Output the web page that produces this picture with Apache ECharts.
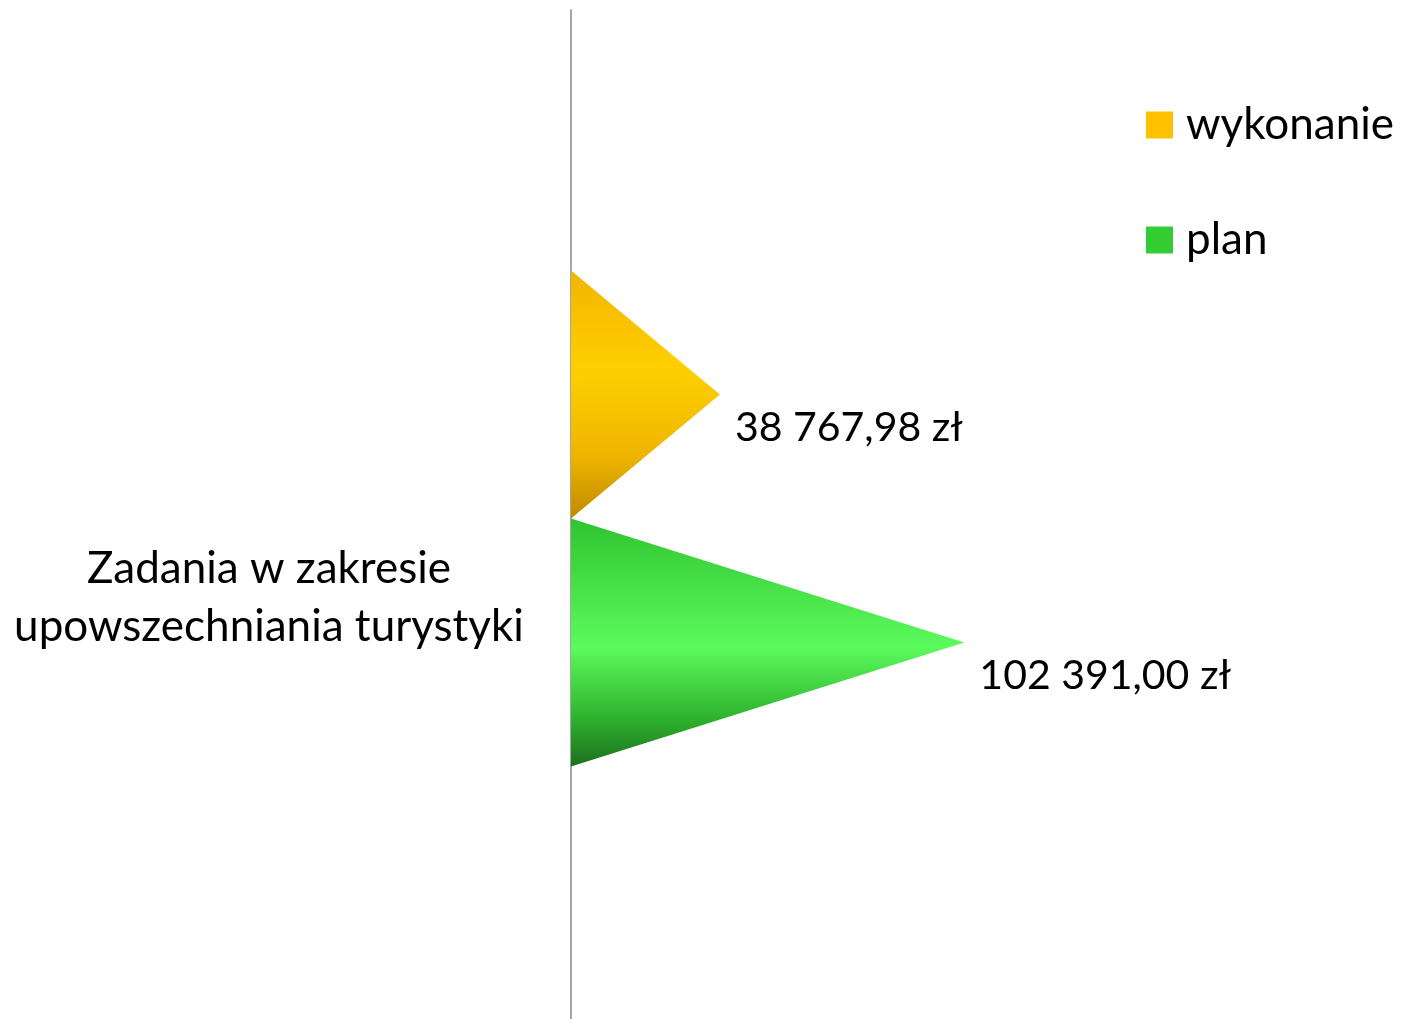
<!DOCTYPE html>
<html>
<head>
<meta charset="utf-8">
<script src="https://cdn.jsdelivr.net/npm/echarts@6/dist/echarts.min.js"></script>
<style>
  html, body { margin: 0; padding: 0; background: #fff; }
  #chart { width: 1402px; height: 1019px; }
</style>
</head>
<body>
<div id="chart"></div>
<script>
var categories = ['Zadania w zakresie\nupowszechniania turystyki'];
var seriesNames = ['wykonanie', 'plan'];
var wykonanie = [38767.98];
var plan = [102391.00];
var legendColors = ['#FFC000', '#33CC33'];

// 38767.98 -> "38 767,98 zł"
function formatZl(v) {
  var parts = v.toFixed(2).split('.');
  var intPart = parts[0].replace(/\B(?=(\d{3})+(?!\d))/g, ' ');
  return intPart + ',' + parts[1] + ' zł';
}

var chart = echarts.init(document.getElementById('chart'));

var coneYellow = new echarts.graphic.LinearGradient(0, 0, 0, 1, [
  { offset: 0, color: '#f2b400' },
  { offset: 0.4, color: '#ffd000' },
  { offset: 0.75, color: '#eeb400' },
  { offset: 1, color: '#c08a00' }
]);
var coneGreen = new echarts.graphic.LinearGradient(0, 0, 0, 1, [
  { offset: 0, color: '#30c430' },
  { offset: 0.52, color: '#5cfa5c' },
  { offset: 0.8, color: '#2fb42f' },
  { offset: 1, color: '#1d701d' }
]);

var labelStyle = {
  show: true,
  position: 'right',
  distance: 15,
  offset: [0, 37],
  fontFamily: 'Lato',
  fontSize: 41,
  color: '#000',
  formatter: function (p) { return formatZl(p.value); }
};

var option = {
  animation: false,
  backgroundColor: '#fff',
  grid: {
    left: 571,
    right: 370,
    top: 10,
    bottom: 0
  },
  legend: {
    orient: 'vertical',
    left: 1146,
    top: 103,
    padding: 0,
    itemWidth: 27,
    itemHeight: 27,
    itemGap: 71,
    icon: 'rect',
    data: [
      { name: seriesNames[0], itemStyle: { color: legendColors[0] } },
      { name: seriesNames[1], itemStyle: { color: legendColors[1] } }
    ],
    textStyle: {
      fontFamily: 'Lato',
      fontSize: 44,
      lineHeight: 44,
      color: '#000',
      padding: [0, 0, 0, 8]
    }
  },
  xAxis: {
    type: 'value',
    min: 0,
    max: 120000,
    show: false
  },
  yAxis: {
    type: 'category',
    data: categories,
    axisLine: { show: true, lineStyle: { color: '#a6a6a6', width: 2 } },
    axisTick: { show: false },
    axisLabel: {
      align: 'center',
      margin: 302,
      formatter: function (value) {
        var lines = value.split('\n');
        return '{s| }\n{c|' + lines[0] + '}\n{c|' + lines[1] + '}';
      },
      rich: {
        s: { fontSize: 10, lineHeight: 167 },
        c: { fontFamily: 'Lato', fontSize: 44, lineHeight: 58, color: '#000', align: 'center' }
      }
    }
  },
  series: [{
    name: seriesNames[0],
    type: 'pictorialBar',
    symbol: 'path://M0,0 L10,5 L0,10 Z',
    symbolSize: ['100%', '100%'],
    symbolOffset: [0, 4],
    barWidth: 248,
    barGap: '0%',
    itemStyle: { color: coneYellow },
    label: labelStyle,
    data: wykonanie
  }, {
    name: seriesNames[1],
    type: 'pictorialBar',
    symbol: 'path://M0,0 L10,5 L0,10 Z',
    symbolSize: ['100%', '100%'],
    symbolOffset: [0, 4],
    barWidth: 248,
    barGap: '0%',
    itemStyle: { color: coneGreen },
    label: labelStyle,
    data: plan
  }]
};

chart.setOption(option);
</script>
</body>
</html>
